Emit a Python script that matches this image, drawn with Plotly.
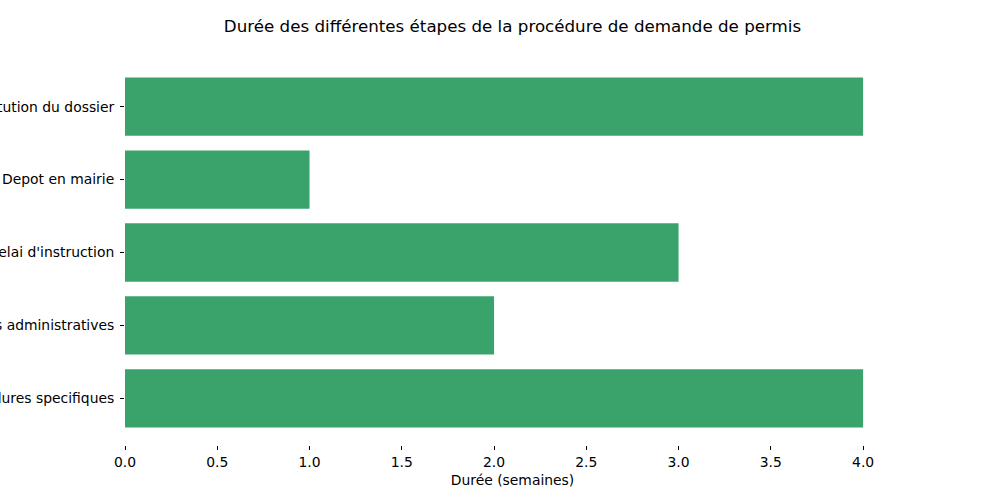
import plotly.graph_objects as go

categories = ["Constitution du dossier", "Depot en mairie", "Delai d'instruction",
              "Procedures administratives", "Procedures specifiques"]
durations = [4, 1, 3, 2, 4]
x_ticks = [0.0, 0.5, 1.0, 1.5, 2.0, 2.5, 3.0, 3.5, 4.0]
x_tick_labels = ["0.0", "0.5", "1.0", "1.5", "2.0", "2.5", "3.0", "3.5", "4.0"]

font = "DejaVu Sans"
fig = go.Figure(go.Bar(
    x=durations, y=categories, orientation="h",
    marker=dict(color="#3aa36b", line=dict(width=0)),
    width=0.8,
))
fig.update_layout(
    width=1000, height=500,
    margin=dict(l=125, r=100, t=60, b=55, autoexpand=False),
    paper_bgcolor="white", plot_bgcolor="white",
    font=dict(family=font, size=13.9, color="black"),
    title=dict(text="Durée des différentes étapes de la procédure de demande de permis",
               x=0.5125, xanchor="center", y=0.948, yanchor="middle",
               font=dict(family=font, size=16.7, color="black")),
    showlegend=False,
)
fig.update_xaxes(
    range=[0, 4.2], tickvals=x_ticks, ticktext=x_tick_labels,
    showgrid=False, zeroline=False, showline=False,
    ticks="outside", ticklen=4, tickwidth=1, tickcolor="black",
    title=dict(text="Durée (semaines)", standoff=6, font=dict(family=font, size=13.9)),
    automargin=False,
)
fig.update_yaxes(
    type="category", categoryorder="array", categoryarray=categories,
    range=[4.64, -0.64],
    showgrid=False, zeroline=False, showline=False,
    ticks="outside", ticklen=4, tickwidth=1, tickcolor="black",
    ticklabelstandoff=3,
    automargin=False,
)
fig.write_html("out.html", config={"displayModeBar": False},
               post_script="document.body.style.margin='0';")
